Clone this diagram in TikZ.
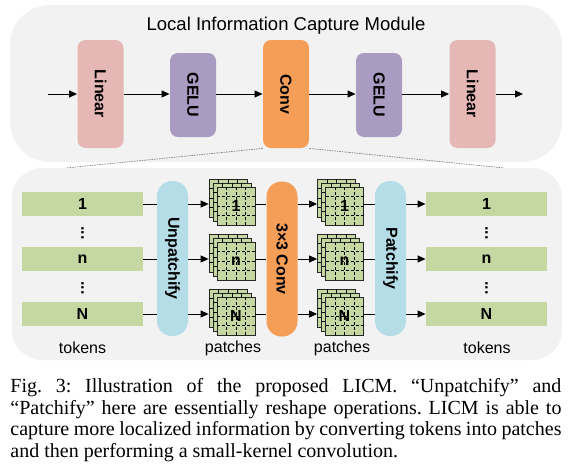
\documentclass[tikz,border=0pt]{standalone}
\usepackage{fontspec}
\setmainfont{Liberation Serif}
\setsansfont{Liberation Sans}
\usetikzlibrary{arrows.meta,calc}

\definecolor{panelgray}{HTML}{F2F2F2}
\definecolor{linpink}{HTML}{E6B8B5}
\definecolor{gelupurple}{HTML}{A99BC1}
\definecolor{convorange}{HTML}{F59E57}
\definecolor{tokgreen}{HTML}{C5D8A2}
\definecolor{pillblue}{HTML}{B5DDE8}

\newcommand{\bfsans}{\sffamily\bfseries\fontsize{16}{19}\selectfont}
\newcommand{\patchstack}[4]{%
  \foreach \d in {8,4} {
    \node[patch] (#1b\d) at (#2-\d,#3-\d) {};
    \foreach \k in {1,2,3} {
      \draw[line width=0.6pt] (#2-\d-19+9.5*\k,#3-\d-19) -- +(0,38);
      \draw[line width=0.6pt] (#2-\d-19,#3-\d-19+9.5*\k) -- +(38,0);
    }
  }
  \node[patch] (#1) at (#2,#3) {};
  \foreach \k in {1,2,3} {
    \draw[line width=0.6pt,dash pattern=on 3pt off 2pt] (#2-19+9.5*\k,#3-19) -- +(0,38);
    \draw[line width=0.6pt,dash pattern=on 3pt off 2pt] (#2-19,#3-19+9.5*\k) -- +(38,0);
  }
  \node[font=\bfsans] at (#1) {#4};
}

\begin{document}
\begin{tikzpicture}[x=1pt,y=-1pt,line width=0.9pt,
    font=\sffamily\fontsize{16}{19}\selectfont,
    >={Triangle[length=8pt,width=7pt]},
    op/.style={rounded corners=8pt,minimum width=46pt,inner sep=0pt,font=\bfsans},
    pill/.style={rounded corners=15pt,minimum width=31pt,minimum height=155pt,inner sep=0pt,font=\bfsans},
    tok/.style={fill=tokgreen,minimum width=121pt,minimum height=24pt,inner sep=0pt,font=\bfsans},
    patch/.style={draw=black!85,fill=tokgreen,minimum size=38pt,inner sep=0pt,line width=0.8pt},
    zoomline/.style={gray,line width=0.7pt,dash pattern=on 1.5pt off 1pt}]
  \useasboundingbox (0,0) rectangle (585,472);

  % upper module
  \fill[panelgray,rounded corners=40pt] (10,5) rectangle (562,162);
  \node[anchor=base,font=\sffamily\fontsize{18.5}{22}\selectfont] (title) at (286,30) {Local Information Capture Module};
  \node[op,fill=linpink,minimum height=108pt] (lin1) at (100.5,94) {\rotatebox{-90}{Linear}};
  \node[op,fill=gelupurple,minimum height=84pt] (gelu1) at (193,95) {\rotatebox{-90}{GELU}};
  \node[op,fill=convorange,minimum height=108pt] (conv) at (286,94) {\rotatebox{-90}{Conv}};
  \node[op,fill=gelupurple,minimum height=84pt] (gelu2) at (379,95) {\rotatebox{-90}{GELU}};
  \node[op,fill=linpink,minimum height=108pt] (lin2) at (472.5,94) {\rotatebox{-90}{Linear}};
  \coordinate (in) at (48,94);
  \coordinate (out) at (523,94);
  \draw[->] (in) -- (lin1);
  \draw[->] (lin1) -- (gelu1.west |- lin1);
  \draw[->] (gelu1.east |- lin1) -- (conv);
  \draw[->] (conv) -- (gelu2.west |- conv);
  \draw[->] (gelu2.east |- conv) -- (lin2);
  \draw[->] (lin2) -- (out);

  \coordinate (zl) at (66,168);
  \coordinate (zr) at (504,168);
  \draw[zoomline] (conv.south west) -- (zl);
  \draw[zoomline] (conv.south east) -- (zr);

  % lower detail
  \fill[panelgray,rounded corners=30pt] (12,168) rectangle (562,360);
  \foreach \n/\t/\y in {1/1/204,2/n/259,3/N/314} {
    \node[tok] (tl\n) at (82.5,\y) {\t};
    \node[tok] (tr\n) at (486.5,\y) {\t};
  }
  \foreach \y in {233,288} {
    \node[font=\bfsans] at (82.5,\y) {\rotatebox{-90}{...}};
    \node[font=\bfsans] at (486.5,\y) {\rotatebox{-90}{...}};
  }
  \node[pill,fill=pillblue] (unp) at (172.5,258.5) {\rotatebox{-90}{Unpatchify}};
  \node[pill,fill=convorange] (cv) at (282,259) {\rotatebox{-90}{3×3 Conv}};
  \node[pill,fill=pillblue] (pat) at (390.5,258.5) {\rotatebox{-90}{Patchify}};

  \patchstack{pl1}{236}{206}{1}
  \patchstack{pl2}{236}{261}{n}
  \patchstack{pl3}{236}{316}{N}
  \patchstack{pr1}{344.5}{206}{1}
  \patchstack{pr2}{344.5}{261}{n}
  \patchstack{pr3}{344.5}{316}{N}

  \foreach \n in {1,2,3} {
    \draw (tl\n.east) -- (tl\n.east -| unp.west);
    \draw[->] (tl\n.east -| unp.east) -- (tl\n.east -| pl\n b8.west);
    \draw (tl\n.east -| pl\n.east) -- (tl\n.east -| cv.west);
    \draw[->] (tl\n.east -| cv.east) -- (tl\n.east -| pr\n b8.west);
    \draw (tl\n.east -| pr\n.east) -- (tl\n.east -| pat.west);
    \draw[->] (tl\n.east -| pat.east) -- (tr\n.west);
  }

  \node (tokl) at (82.5,348) {tokens};
  \node (patl) at (233,348) {patches};
  \node (patr) at (342,348) {patches};
  \node (tokr) at (487,348) {tokens};

  % caption
  \node[anchor=north west,inner sep=0pt,text width=551pt,align=justify,
    font=\rmfamily\fontsize{20}{21.7}\selectfont\frenchspacing] (caption) at (10,378)
    {Fig.~3: Illustration of the proposed LICM. “Unpatchify” and\linebreak
     “Patchify” here are essentially reshape operations. LICM is able to\linebreak
     capture more localized information by converting tokens into patches\linebreak
     and then performing a small-kernel convolution.};
\end{tikzpicture}
\end{document}
